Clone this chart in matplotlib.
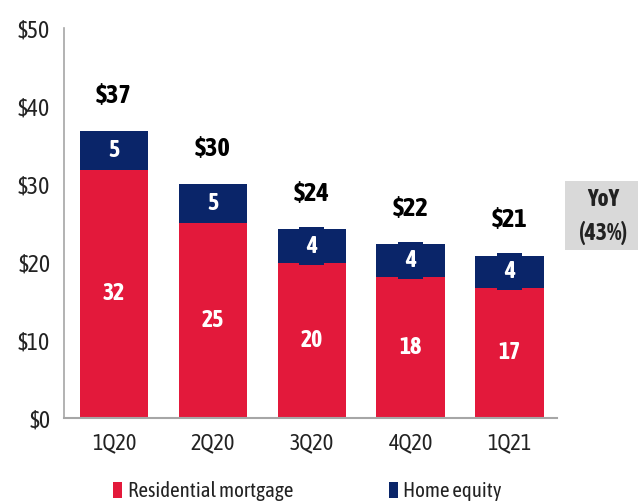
import matplotlib
matplotlib.use("Agg")
import matplotlib.pyplot as plt
from matplotlib.patches import Patch, Rectangle
from matplotlib import font_manager

quarters = ["1Q20", "2Q20", "3Q20", "4Q20", "1Q21"]
residential = [31.8, 25.0, 19.9, 18.1, 16.7]
home_equity = [5.0, 5.0, 4.3, 4.2, 4.1]
res_labels = ["32", "25", "20", "18", "17"]
he_labels = ["5", "5", "4", "4", "4"]
total_labels = ["$37", "$30", "$24", "$22", "$21"]
yticks = [0, 10, 20, 30, 40, 50]
ytick_labels = ["$0", "$10", "$20", "$30", "$40", "$50"]

names = {f.name for f in font_manager.fontManager.ttflist}
fam = "Asap Condensed" if "Asap Condensed" in names else "DejaVu Sans"
plt.rcParams["font.family"] = [fam, "DejaVu Sans"]

RED = "#E3193B"
NAVY = "#0A2569"
GRAY = "#A6A6A6"
TXT = "#222222"

fig = plt.figure(figsize=(6.38, 5.04), dpi=100)
ax = fig.add_axes([0.1003, 0.1706, 0.7727, 0.7738])

x = list(range(len(quarters)))
w = 0.69
ax.bar(x, residential, width=w, color=RED, zorder=2)
ax.bar(x, home_equity, width=w, bottom=residential, color=NAVY, zorder=2)

for i in x:
    r = residential[i]
    h = home_equity[i]
    ax.text(i, r / 2, res_labels[i], ha="center", va="center", color="white",
            fontsize=17, fontweight="bold", zorder=4)
    ax.text(i, r + h / 2, he_labels[i], ha="center", va="center", color="white",
            fontsize=17, fontweight="bold", zorder=4,
            bbox=dict(boxstyle="square,pad=0.3", fc=NAVY, ec="none"))
    ax.text(i, r + h + 3.0, total_labels[i], ha="center", va="bottom", color="black",
            fontsize=19, fontweight="bold", zorder=4)

ax.set_xlim(-0.505, 4.48)
ax.set_ylim(0, 50)
ax.set_yticks(yticks)
ax.set_yticklabels(ytick_labels, fontsize=17, color=TXT)
ax.set_xticks(x)
ax.set_xticklabels(quarters, fontsize=16, color=TXT)
ax.tick_params(axis="both", length=0)
ax.tick_params(axis="y", pad=10)
ax.tick_params(axis="x", pad=10)
for s in ["top", "right"]:
    ax.spines[s].set_visible(False)
ax.spines["left"].set_color(GRAY)
ax.spines["bottom"].set_color(GRAY)
ax.spines["left"].set_linewidth(1.2)
ax.spines["bottom"].set_linewidth(1.5)

# YoY box
fig.patches.append(Rectangle((0.886, 0.504), 0.114, 0.137, transform=fig.transFigure,
                             facecolor="#D9D9D9", edgecolor="none"))
fig.text(0.946, 0.605, "YoY", ha="center", va="center", fontsize=17, fontweight="bold", color=TXT)
fig.text(0.946, 0.537, "(43%)", ha="center", va="center", fontsize=17, fontweight="bold", color=TXT)

handles = [Patch(facecolor=RED, edgecolor="none"), Patch(facecolor=NAVY, edgecolor="none")]
fig.legend(handles, ["Residential mortgage", "Home equity"], loc="center left",
           bbox_to_anchor=(0.164, 0.025), ncol=2, frameon=False, fontsize=15,
           handlelength=0.45, handleheight=0.85, handletextpad=0.25, columnspacing=4.6,
           borderaxespad=0, labelcolor=TXT)

fig.savefig("out.png", dpi=100)
